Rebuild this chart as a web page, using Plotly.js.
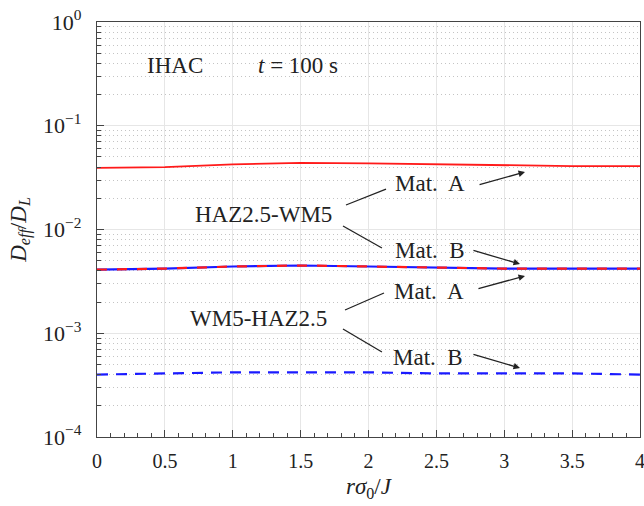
<!DOCTYPE html>
<html>
<head>
<meta charset="utf-8">
<script src="https://cdn.plot.ly/plotly-3.0.1.min.js"></script>
<style>html,body{margin:0;padding:0;background:#fff;}#chart{width:644px;height:506px;}
#chart svg text{font-family:'Liberation Serif','DejaVu Serif',serif !important;}</style>
</head>
<body>
<div id="chart"></div>
<script>
// ---- data ----
const xVals = [0, 0.5, 1, 1.5, 2, 2.5, 3, 3.5, 4];
const hazWmMatA = [0.0392, 0.0400, 0.0424, 0.0438, 0.0433, 0.0424, 0.0414, 0.0409, 0.0409];
const hazWmMatB = [0.0041, 0.0042, 0.0044, 0.0045, 0.0044, 0.0043, 0.0042, 0.0042, 0.0042];
const wmHazMatA = [0.0041, 0.0042, 0.0044, 0.0045, 0.0044, 0.0043, 0.0042, 0.0042, 0.0042];
const wmHazMatB = [0.00040, 0.00041, 0.00042, 0.00042, 0.00042, 0.00041, 0.00041, 0.00041, 0.00040];
const yTickVals = [1e-4, 1e-3, 1e-2, 1e-1, 1];
const yTickText = ['10<sup>−4</sup>', '10<sup>−3</sup>', '10<sup>−2</sup>', '10<sup>−1</sup>', '10<sup>0</sup>'];
const xTickVals = [0, 0.5, 1, 1.5, 2, 2.5, 3, 3.5, 4];
const xTickText = ['0', '0.5', '1', '1.5', '2', '2.5', '3', '3.5', '4'];

const yMinor = [];
for (let e = -4; e < 0; e++) for (let d = 2; d <= 9; d++) yMinor.push(d * Math.pow(10, e));

const FONT = 'Liberation Serif';
const RED = '#ff1a1a', BLUE = '#1a1aff';
const AX = '#444';

const traces = [
  {x: xVals, y: hazWmMatA, mode: 'lines', line: {color: RED, width: 1.8}},
  {x: xVals, y: wmHazMatA, mode: 'lines', line: {color: BLUE, width: 2.2}},
  {x: xVals, y: hazWmMatB, mode: 'lines', line: {color: RED, width: 2.2, dash: '10px,10px'}},
  {x: xVals, y: wmHazMatB, mode: 'lines', line: {color: BLUE, width: 2.2, dash: '11px,8px'}}
];

const txt = (t, x, y) => ({text: t, x: x, y: y, xref: 'x', yref: 'y', showarrow: false,
  font: {family: FONT, size: 23, color: '#222'}, xanchor: 'center', yanchor: 'middle'});
const arrow = (x0, y0, x1, y1) => ({text: '', x: x1, y: y1, ax: x0, ay: y0,
  xref: 'x', yref: 'y', axref: 'x', ayref: 'y', showarrow: true,
  arrowhead: 2, arrowsize: 1, arrowwidth: 1.3, arrowcolor: '#222', standoff: 0, startstandoff: 0});
const line = (x0, y0, x1, y1) => ({type: 'line', xref: 'x', yref: 'y', x0: x0, y0: Math.pow(10, y0),
  x1: x1, y1: Math.pow(10, y1), line: {color: '#222', width: 1.3}});

const annotations = [
  txt('IHAC', 0.575, -0.424),
  txt('<i>t</i> = 100 s', 1.48, -0.424),
  txt('Mat.  A', 2.453, -1.561),
  txt('HAZ2.5-WM5', 1.223, -1.851),
  txt('Mat.  B', 2.453, -2.207),
  txt('Mat.  A', 2.446, -2.593),
  txt('WM5-HAZ2.5', 1.193, -2.853),
  txt('Mat.  B', 2.438, -3.229),
  arrow(2.807, -1.571, 3.153, -1.446),
  arrow(2.762, -2.198, 3.116, -2.333),
  arrow(2.799, -2.573, 3.153, -2.448),
  arrow(2.762, -3.200, 3.116, -3.335)
];
const shapes = [
  line(1.834, -1.764, 2.129, -1.610),
  line(1.812, -1.966, 2.099, -2.178),
  line(1.827, -2.776, 2.114, -2.612),
  line(1.812, -2.959, 2.099, -3.181)
];

const xMinor = {dtick: 0.1, tick0: 0, ticks: 'inside', ticklen: 4, tickcolor: AX, showgrid: false};
const yMinorTicks = {tickmode: 'array', tickvals: yMinor, ticks: 'inside', ticklen: 4, tickcolor: AX};

const layout = {
  width: 644, height: 506,
  margin: {l: 97, r: 4, t: 22, b: 69},
  paper_bgcolor: '#fff', plot_bgcolor: '#fff',
  showlegend: false,
  font: {family: FONT, size: 20, color: '#222'},
  xaxis: {
    range: [0, 4], tickmode: 'array', tickvals: xTickVals, ticktext: xTickText,
    ticks: 'inside', ticklen: 7, tickcolor: AX, tickwidth: 1,
    showline: true, linecolor: AX, linewidth: 1.2, mirror: true,
    showgrid: true, gridcolor: '#e6e6e6', gridwidth: 1, zeroline: false,
    ticklabelstandoff: 6, ticklabeloverflow: 'allow',
    tickfont: {family: FONT, size: 20, color: '#222'},
    minor: xMinor,
    title: {text: '<i>rσ</i><sub>0</sub>/<i>J</i>', font: {family: FONT, size: 23, color: '#222'}, standoff: 6},
    automargin: false
  },
  xaxis2: {
    overlaying: 'x', side: 'top', anchor: 'y', matches: 'x', range: [0, 4],
    tickmode: 'array', tickvals: xTickVals, showticklabels: false,
    ticks: 'inside', ticklen: 7, tickcolor: AX, showgrid: false, showline: false, zeroline: false,
    minor: xMinor
  },
  yaxis: {
    type: 'log', range: [-4, 0], tickmode: 'array', tickvals: yTickVals, ticktext: yTickText,
    ticks: 'inside', ticklen: 7, tickcolor: AX, tickwidth: 1,
    showline: true, linecolor: AX, linewidth: 1.2, mirror: true,
    showgrid: true, gridcolor: '#e6e6e6', gridwidth: 1, zeroline: false,
    ticklabelstandoff: 10, ticklabeloverflow: 'allow',
    tickfont: {family: FONT, size: 22, color: '#222'},
    minor: Object.assign({showgrid: true, gridcolor: '#c4c4c4', griddash: '1px,3px', gridwidth: 1}, yMinorTicks),
    title: {text: '<i>D</i><sub><i>eff</i></sub>/<i>D</i><sub><i>L</i></sub>', font: {family: FONT, size: 23, color: '#222'}, standoff: 10},
    automargin: false
  },
  yaxis2: {
    type: 'log', overlaying: 'y', side: 'right', anchor: 'x', range: [-4, 0],
    tickmode: 'array', tickvals: yTickVals, showticklabels: false,
    ticks: 'inside', ticklen: 7, tickcolor: AX, showgrid: false, showline: false, zeroline: false,
    minor: Object.assign({showgrid: false}, yMinorTicks)
  },
  annotations: annotations,
  shapes: shapes
};

function draw() {
  Plotly.newPlot('chart', traces, layout, {displayModeBar: false, staticPlot: true});
}
if (document.fonts && document.fonts.load) {
  document.fonts.load('23px "Liberation Serif"').then(draw, draw);
} else {
  draw();
}
</script>
</body>
</html>
